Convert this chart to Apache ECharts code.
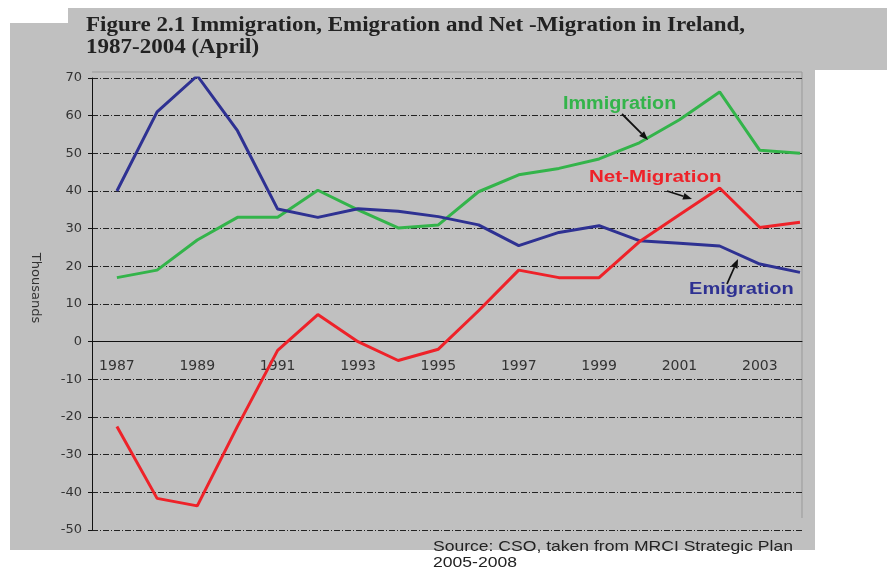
<!DOCTYPE html>
<html><head><meta charset="utf-8">
<script src="https://cdn.jsdelivr.net/npm/echarts@6/dist/echarts.min.js"></script>
<style>html,body{margin:0;padding:0;background:#fff}#c{width:887px;height:569px}</style>
</head><body><div id="c"></div>
<script>
const years = [1987,1988,1989,1990,1991,1992,1993,1994,1995,1996,1997,1998,1999,2000,2001,2002,2003,2004];
const immigration = [17,19,27,33,33,40.2,35,30.2,31,39.8,44.3,46,48.5,52.8,58.9,66.3,50.8,50];
const emigration = [40,61,70.6,56,35.2,33,35.3,34.6,33.2,31,25.5,29,30.8,26.8,26.1,25.4,20.6,18.4];
const netMigration = [-22.5,-41.6,-43.6,-22.5,-2.3,7.2,0,-5,-2,8.2,19,17,17,26.5,33.7,40.8,30.3,31.7];
const xLabels = [1987,1989,1991,1993,1995,1997,1999,2001,2003];
const yTicks = {min:-50, max:70, interval:10};

const chart = echarts.init(document.getElementById('c'));
const pair = a => years.map((y,i)=>[y,a[i]]);
const FONT = '"Liberation Sans", Arial, sans-serif';
const AXF = '"DejaVu Sans", sans-serif';
function arrow(x1,y1,x2,y2){
  const ang=Math.atan2(y2-y1,x2-x1), L=9, W=3.5;
  const bx=x2-L*Math.cos(ang), by=y2-L*Math.sin(ang);
  const px=-Math.sin(ang)*W, py=Math.cos(ang)*W;
  return [
    {type:'line',shape:{x1:x1,y1:y1,x2:bx,y2:by},style:{stroke:'#111',lineWidth:1.8},z:50},
    {type:'polygon',shape:{points:[[x2,y2],[bx+px,by+py],[bx-px,by-py]]},style:{fill:'#111'},z:50}
  ];
}
chart.setOption({
  animation:false,
  backgroundColor:'#fff',
  grid:{left:92,right:85,top:78,bottom:39,containLabel:false},
  xAxis:{type:'value',min:1986.38,max:2004.05,offset:-188.3,
    axisLine:{onZero:false,lineStyle:{color:'#111',width:1}},
    axisTick:{show:false},
    splitLine:{show:false},
    axisLabel:{customValues:xLabels,margin:18,color:'#333',fontFamily:AXF,fontSize:14,formatter:v=>String(v)}
  },
  yAxis:{type:'value',min:yTicks.min,max:yTicks.max,interval:yTicks.interval,
    axisLine:{show:true,lineStyle:{color:'#111',width:1}},
    axisTick:{show:true,length:4,lineStyle:{color:'#111'}},
    axisLabel:{margin:10,color:'#333',fontFamily:AXF,fontSize:13},
    splitLine:{show:true,lineStyle:{color:'#222',width:1,type:[6,2,1,2]}}
  },
  graphic:[
    {type:'rect',shape:{x:10,y:23,width:805,height:527},style:{fill:'#c0c0c0'},z:-10},
    {type:'rect',shape:{x:68,y:8,width:819,height:62},style:{fill:'#c0c0c0'},z:-10},
    {type:'line',shape:{x1:802,y1:72,x2:802,y2:518},style:{stroke:'#999',lineWidth:1},z:-5},
    {type:'line',shape:{x1:92,y1:72,x2:802,y2:72},style:{stroke:'#999',lineWidth:1},z:-5},
    {type:'text',x:86,y:15,scaleX:1.15,style:{text:'Figure 2.1 Immigration, Emigration and Net -Migration in Ireland,\n1987-2004 (April)',fill:'#222',font:'bold 20px "Liberation Serif", "Times New Roman", serif',lineHeight:22},z:50},
    {type:'text',x:35,y:288,rotation:-Math.PI/2,style:{text:'Thousands',fill:'#333',font:'13px '+AXF,align:'center',verticalAlign:'middle'},z:50},
    {type:'text',x:563,y:104,scaleX:1.1,style:{text:'Immigration',fill:'#33b44a',font:'bold 18px '+FONT,verticalAlign:'middle'},z:50},
    {type:'text',x:589,y:177,scaleX:1.21,style:{text:'Net-Migration',fill:'#ee2229',font:'bold 17px '+FONT,verticalAlign:'middle'},z:50},
    {type:'text',x:689,y:289,scaleX:1.18,style:{text:'Emigration',fill:'#2e3192',font:'bold 17px '+FONT,verticalAlign:'middle'},z:50},
    {type:'text',x:433,y:539,scaleX:1.17,style:{text:'Source: CSO, taken from MRCI Strategic Plan\n2005-2008',fill:'#222',font:'15px '+FONT,lineHeight:16},z:50},
    ...arrow(622,114,648,140),
    ...arrow(667,191,692,199),
    ...arrow(727,284,738,259)
  ],
  series:[
    {name:'Immigration',type:'line',data:pair(immigration),symbol:'none',lineStyle:{color:'#33b44a',width:3},z:3},
    {name:'Emigration',type:'line',data:pair(emigration),symbol:'none',lineStyle:{color:'#2e3192',width:3},z:3},
    {name:'Net-Migration',type:'line',data:pair(netMigration),symbol:'none',lineStyle:{color:'#ee2229',width:3},z:3}
  ]
});
</script></body></html>
